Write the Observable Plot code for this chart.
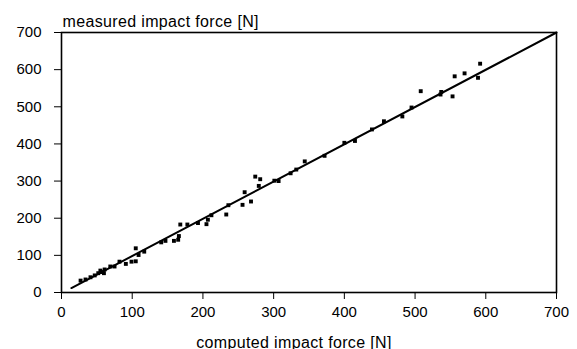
<!DOCTYPE html>
<html>
<head>
<meta charset="utf-8">
<script src="https://cdn.jsdelivr.net/npm/d3@7"></script>
<script src="https://cdn.jsdelivr.net/npm/@observablehq/plot@0.6"></script>
<style>
  html, body { margin: 0; padding: 0; background: #fff; }
  #chart svg { font-family: "Liberation Sans", Arial, sans-serif; }
  #chart svg .title-text { letter-spacing: 0.35px; }
</style>
</head>
<body>
<div id="chart"></div>
<script>
const computed = [27, 34, 41, 47, 52, 55, 57, 60, 61, 69, 75, 82, 91, 99, 105, 105, 109, 117,
  141, 147, 159, 165, 166, 168, 178, 193, 205, 207, 212, 233, 236, 256, 259, 268, 274, 281, 279,
  301, 307, 324, 332, 344, 372, 400, 415, 439, 456, 482, 495, 508, 536, 537, 553, 556, 570, 589, 592];
const measured = [32, 35, 41, 46, 52, 59, 55, 52, 62, 70, 70, 83, 77, 83, 84, 119, 101, 110,
  135, 139, 139, 142, 152, 183, 183, 187, 184, 196, 208, 210, 235, 236, 270, 245, 312, 305, 287,
  301, 300, 321, 331, 353, 368, 403, 408, 439, 461, 474, 498, 542, 533, 540, 528, 582, 590, 578, 616];
const fitX = [14, 700];
const fitY = [12, 700];
const ticks = [0, 100, 200, 300, 400, 500, 600, 700];
const xTitle = "computed impact force [N]";
const yTitle = "measured impact force [N]";

const points = computed.map((c, i) => ({x: c, y: measured[i]}));
const fit = fitX.map((x, i) => ({x, y: fitY[i]}));

const chart = Plot.plot({
  width: 577,
  height: 349,
  marginLeft: 61,
  marginRight: 21,
  marginTop: 32,
  marginBottom: 57,
  style: {fontSize: "15px", fontFamily: "'Liberation Sans', Arial, sans-serif", color: "#000", background: "#fff"},
  x: {domain: [0, 700], ticks, label: null},
  y: {domain: [0, 700], ticks, label: null},
  marks: [
    Plot.axisX({ticks, tickSize: 7, tickPadding: 7, label: null, stroke: "#000", fontSize: 15}),
    Plot.axisY({ticks, tickSize: 7, tickPadding: 13, label: null, stroke: "#000", fontSize: 15}),
    Plot.frame({stroke: "#000", strokeWidth: 1.6}),
    Plot.line(fit, {x: "x", y: "y", stroke: "#000", strokeWidth: 2}),
    Plot.dot(points, {x: "x", y: "y", symbol: "square", r: 2.2, fill: "#000", stroke: "none"}),
    Plot.text([yTitle], {frameAnchor: "top-left", text: d => d, textAnchor: "start", dx: 1, dy: -17, fontSize: 16, fill: "#000", className: "title-text"}),
    Plot.text([xTitle], {frameAnchor: "bottom", text: d => d, dx: -15, dy: 55, fontSize: 16, fill: "#000", className: "title-text"})
  ]
});
document.getElementById("chart").appendChild(chart);
</script>
</body>
</html>
